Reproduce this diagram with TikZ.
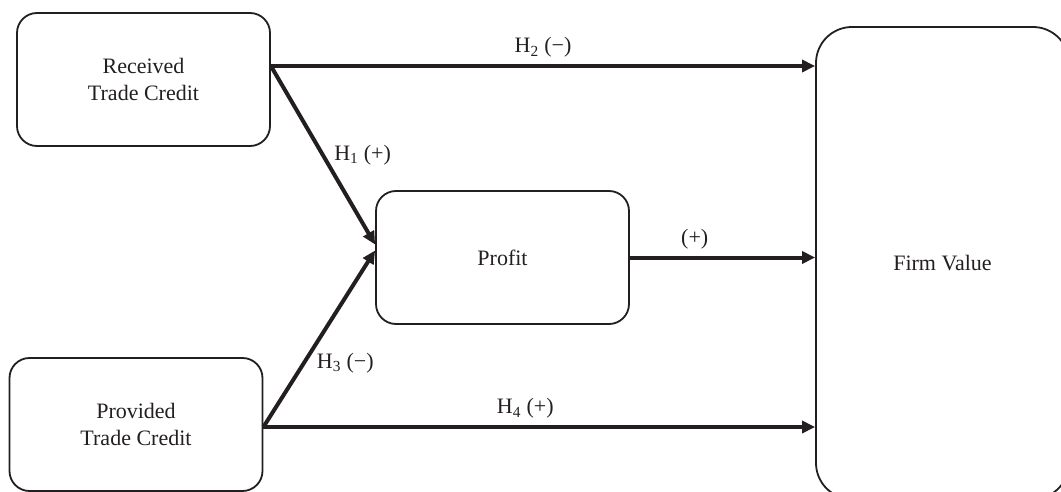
\documentclass[tikz,border=0pt]{standalone}
\usepackage{fontspec}
\setmainfont{Liberation Serif}
\usetikzlibrary{arrows.meta}
\definecolor{ink}{HTML}{231F20}
\tikzset{
  box/.style={draw, line width=1.8pt, rounded corners=20pt, minimum width=253pt,
    minimum height=133pt, align=center, inner sep=0pt},
  link/.style={line width=4pt, -{Triangle[length=13pt,width=12pt]}},
}
\begin{document}
\begin{tikzpicture}[x=1pt,y=-1pt,color=ink,font=\fontsize{22}{27.5}\selectfont]
\clip (0,0) rectangle (1061,492);
\node[box] (rtc) at (143.5,79.5) {Received\\Trade Credit};
\node[box] (ptc) at (136,424.5) {Provided\\Trade Credit};
\node[box] (prf) at (502.5,257.5) {Profit};
\node[box,rounded corners=36pt,minimum height=472pt] (fv) at (942.5,263) {Firm Value};
\coordinate (rtcout) at ([yshift=13.5pt]rtc.east);
\coordinate (ptcout) at ([yshift=-2.5pt]ptc.east);
% direct effects on firm value
\draw[link] (rtcout) -- (rtcout -| fv.west) node[midway,above=3pt] {H\textsubscript{2} (−)};
\draw[link] (ptcout) -- (ptcout -| fv.west) node[midway,above=3pt,xshift=-14pt] {H\textsubscript{4} (+)};
% paths through profit
\draw[link] (rtcout) -- ([yshift=13pt]prf.west) node[midway,right=6pt] {H\textsubscript{1} (+)};
\draw[link] (ptcout) -- ([yshift=7pt]prf.west) node[pos=0.36,right=8pt] {H\textsubscript{3} (−)};
\draw[link] (prf.east) -- (prf.east -| fv.west) node[pos=0.35,above=3pt] {(+)};
\end{tikzpicture}
\end{document}
